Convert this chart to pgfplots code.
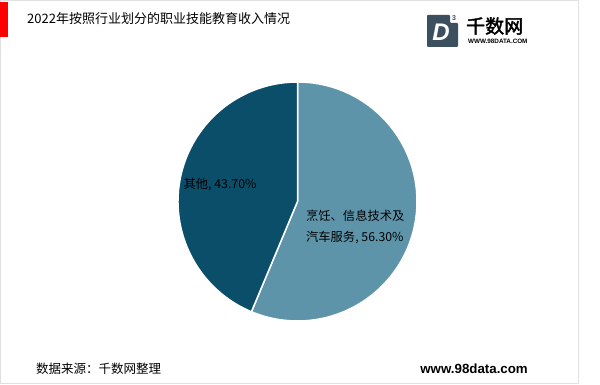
\documentclass[border=0pt]{standalone}
\usepackage{pgfplots}
\pgfplotsset{compat=1.18}
\usepackage{pgfplotstable}
\usepackage{fontspec}
\setmainfont{Liberation Sans}
\newfontfamily\cjk{Noto Sans CJK SC}
\newfontfamily\cjkb[FakeBold=2]{Noto Sans CJK SC}
\definecolor{lightslice}{HTML}{5E94A9}
\definecolor{darkslice}{HTML}{0B4E6A}
\definecolor{logoc}{HTML}{3B4F5E}
\pgfplotstableread{
label value
a 56.30
b 43.70
}\piedata
\begin{document}
\begin{tikzpicture}[x=1pt,y=1pt]
\path[use as bounding box] (0,0) rectangle (600,385);
\fill[white] (0,0) rectangle (600,385);
\draw[draw=black!12,line width=1pt] (0.5,1.5) rectangle (578,384);
% red bar
\fill[red] (0,348) rectangle (8,383);
% title
\node[anchor=west,font=\cjk\fontsize{13}{14}\selectfont,inner sep=0pt] at (27,366) {2022年按照行业划分的职业技能教育收入情况};
% logo
\fill[logoc,rounded corners=1pt] (427,338) -- (427,370) -- (450,370) -- (450,362) -- (458,362) -- (458,338) -- cycle;
\node[text=logoc,font=\fontsize{7}{8}\selectfont\bfseries,inner sep=0pt] at (454,367) {3};
\node[text=white,font=\fontsize{24}{26}\selectfont\bfseries\itshape,inner sep=0pt] at (441,353) {D};
\node[anchor=west,font=\cjkb\fontsize{19}{20}\selectfont,inner sep=0pt] at (466,359) {千数网};
\node[anchor=west,font=\fontsize{6.3}{7}\selectfont\bfseries,inner sep=0pt] at (468,344) {WWW.98DATA.COM};
% footer
\node[anchor=west,font=\cjk\fontsize{12.5}{14}\selectfont,inner sep=0pt] at (36,16) {数据来源：千数网整理};
\node[anchor=east,font=\fontsize{13.3}{14}\selectfont\bfseries,inner sep=0pt] at (528,16) {www.98data.com};
\pgfplotstablegetelem{0}{value}\of\piedata
\pgfmathsetmacro\va{\pgfplotsretval}
\pgfplotstablegetelem{1}{value}\of\piedata
\pgfmathsetmacro\vb{\pgfplotsretval}
\pgfmathsetmacro\angA{90-3.6*\va}
\pgfmathsetmacro\angB{\angA-3.6*\vb}
\pgfmathsetmacro\cxA{cos(\angA)}
\pgfmathsetmacro\cyA{sin(\angA)}
\begin{axis}[
  x=119.5pt, y=119.5pt,
  xmin=-1.2, xmax=1.2, ymin=-1.2, ymax=1.2,
  hide axis,
  anchor=center,
  at={(297.5pt,183.5pt)},
  clip=false,
]
\fill[lightslice,draw=white,line width=1.5pt] (axis cs:0,0) -- (axis cs:0,1) arc[start angle=90,end angle=\angA,radius=119.5pt] -- cycle;
\fill[darkslice,draw=white,line width=1.5pt] (axis cs:0,0) -- (axis cs:\cxA,\cyA) arc[start angle=\angA,end angle=\angB,radius=119.5pt] -- cycle;
\node[anchor=west,font=\cjk\fontsize{12.3}{14}\selectfont,inner sep=0pt] at (axis cs:-0.955,0.14) {其他, 43.70\%};
\node[anchor=west,font=\cjk\fontsize{12.3}{21}\selectfont,inner sep=0pt,align=left] at (axis cs:0.07,-0.215) {烹饪、信息技术及\\汽车服务, 56.30\%};
\end{axis}
\end{tikzpicture}
\end{document}
